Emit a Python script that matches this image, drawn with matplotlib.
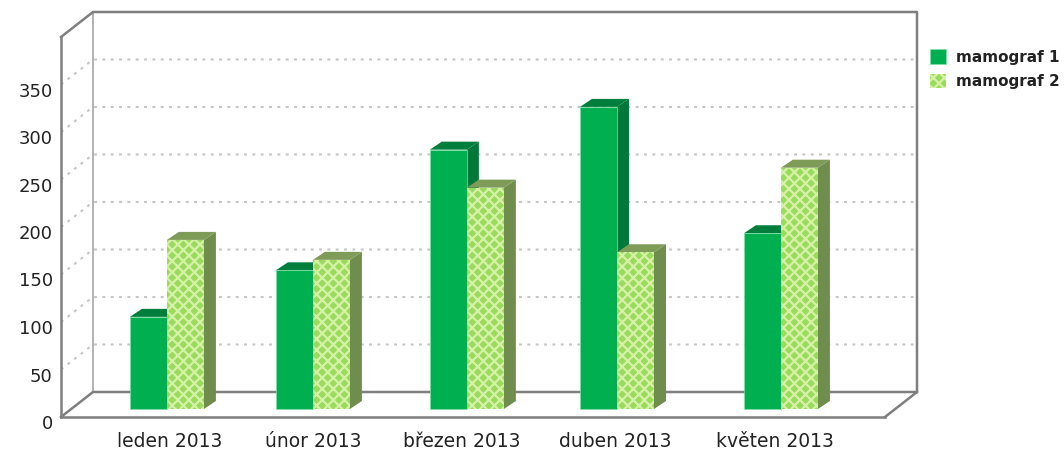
import matplotlib
matplotlib.use("Agg")
import matplotlib.pyplot as plt
from matplotlib.transforms import ScaledTranslation

categories = ["leden 2013", "únor 2013", "březen 2013", "duben 2013", "květen 2013"]
mamograf_1 = [97, 146, 273, 318, 185]
mamograf_2 = [178, 157, 233, 165, 254]
bar_pos = [0, 0.951, 1.954, 2.932, 4]
label_pos = [0.02, 0.951, 1.922, 2.919, 3.96]
y_ticks = [0, 50, 100, 150, 200, 250, 300, 350]

GREY = "#7f7f7f"
W, H = 1064, 454
fig = plt.figure(figsize=(W / 100, H / 100), dpi=100)
ax = fig.add_axes([61 / W, (H - 417) / H, 824 / W, 380 / H])
ax.set_xlim(-0.69, 4.678)
ax.set_ylim(0, 400)
ax.patch.set_alpha(0)

px_x = 1 / 153.5
px_y = 1 / 0.95
wall_dx, wall_dy = 32 * px_x, 25 * px_y
x0, x1 = ax.get_xlim()
top = ax.get_ylim()[1]

# walls and gridlines
for v in y_ticks[1:]:
    ax.plot([x0, x0 + wall_dx, x1 + wall_dx], [v, v + wall_dy, v + wall_dy],
            ls=(0, (1.4, 2.6)), lw=1.5, color="#c6c6c6", clip_on=False, zorder=1)
ax.plot([x0 + wall_dx] * 2, [wall_dy, top + wall_dy], color="#a6a6a6", lw=1.2, clip_on=False, zorder=2)
ax.plot([x0, x0 + wall_dx, x1 + wall_dx, x1 + wall_dx, x1],
        [top, top + wall_dy, top + wall_dy, wall_dy, 0],
        color=GREY, lw=1.8, clip_on=False, zorder=2)
ax.plot([x0, x0 + wall_dx, x1 + wall_dx], [0, wall_dy, wall_dy], color=GREY, lw=1.8, clip_on=False, zorder=2)

# bars
bw = 37 * px_x
base = 8 * px_y
dx, dy = 12 * px_x, 8 * px_y


def bars3d(offset, values, front, side, cap, z, label, **kw):
    xs = [p + offset for p in bar_pos]
    b = ax.bar(xs, values, width=bw, bottom=base, align="edge", color=front,
               zorder=z + 0.2, clip_on=False, label=label, **kw)
    for x, v in zip(xs, values):
        t = base + v
        ax.fill([x + bw, x + bw + dx, x + bw + dx, x + bw],
                [base, base + dy, t + dy, t], color=side, lw=0, zorder=z, clip_on=False)
        ax.fill([x, x + dx, x + bw + dx, x + bw],
                [t, t + dy, t + dy, t], color=cap, lw=0, zorder=z + 0.1, clip_on=False)
    return b


plt.rcParams["hatch.linewidth"] = 1.6
b1 = bars3d(-bw, mamograf_1, "#00b050", "#00783a", "#007f3c", 3, "mamograf 1", edgecolor="#7fe0a8", linewidth=0.5)
b2 = bars3d(0, mamograf_2, "#9ada5e", "#6f8d4c", "#7f9b58", 4, "mamograf 2",
            hatch="xxx", edgecolor="#d6f2a6", linewidth=0)

# axes
for s in ("top", "right"):
    ax.spines[s].set_visible(False)
for s in ("left", "bottom"):
    ax.spines[s].set_color(GREY)
    ax.spines[s].set_linewidth(1.8)
ax.set_yticks(y_ticks)
ax.set_yticklabels([str(v) for v in y_ticks])
ax.set_xticks(label_pos)
ax.set_xticklabels(categories)
ax.tick_params(axis="y", length=0, pad=6, labelsize=13, labelcolor="#222222")
ax.tick_params(axis="x", length=0, pad=11, labelsize=13.5, labelcolor="#222222")
shift = ScaledTranslation(0, -5 / 100, fig.dpi_scale_trans)
for lab in ax.get_yticklabels():
    lab.set_transform(lab.get_transform() + shift)

leg = ax.legend(handles=[b1, b2], loc="upper left", bbox_to_anchor=(930 / W, (H - 49) / H),
                bbox_transform=fig.transFigure, frameon=False, borderpad=0, borderaxespad=0,
                handlelength=1.05, handleheight=1.1, handletextpad=0.62, labelspacing=0.6,
                prop={"weight": "bold", "size": 11})
for t in leg.get_texts():
    t.set_color("#222222")

fig.savefig("out.png", dpi=100)
